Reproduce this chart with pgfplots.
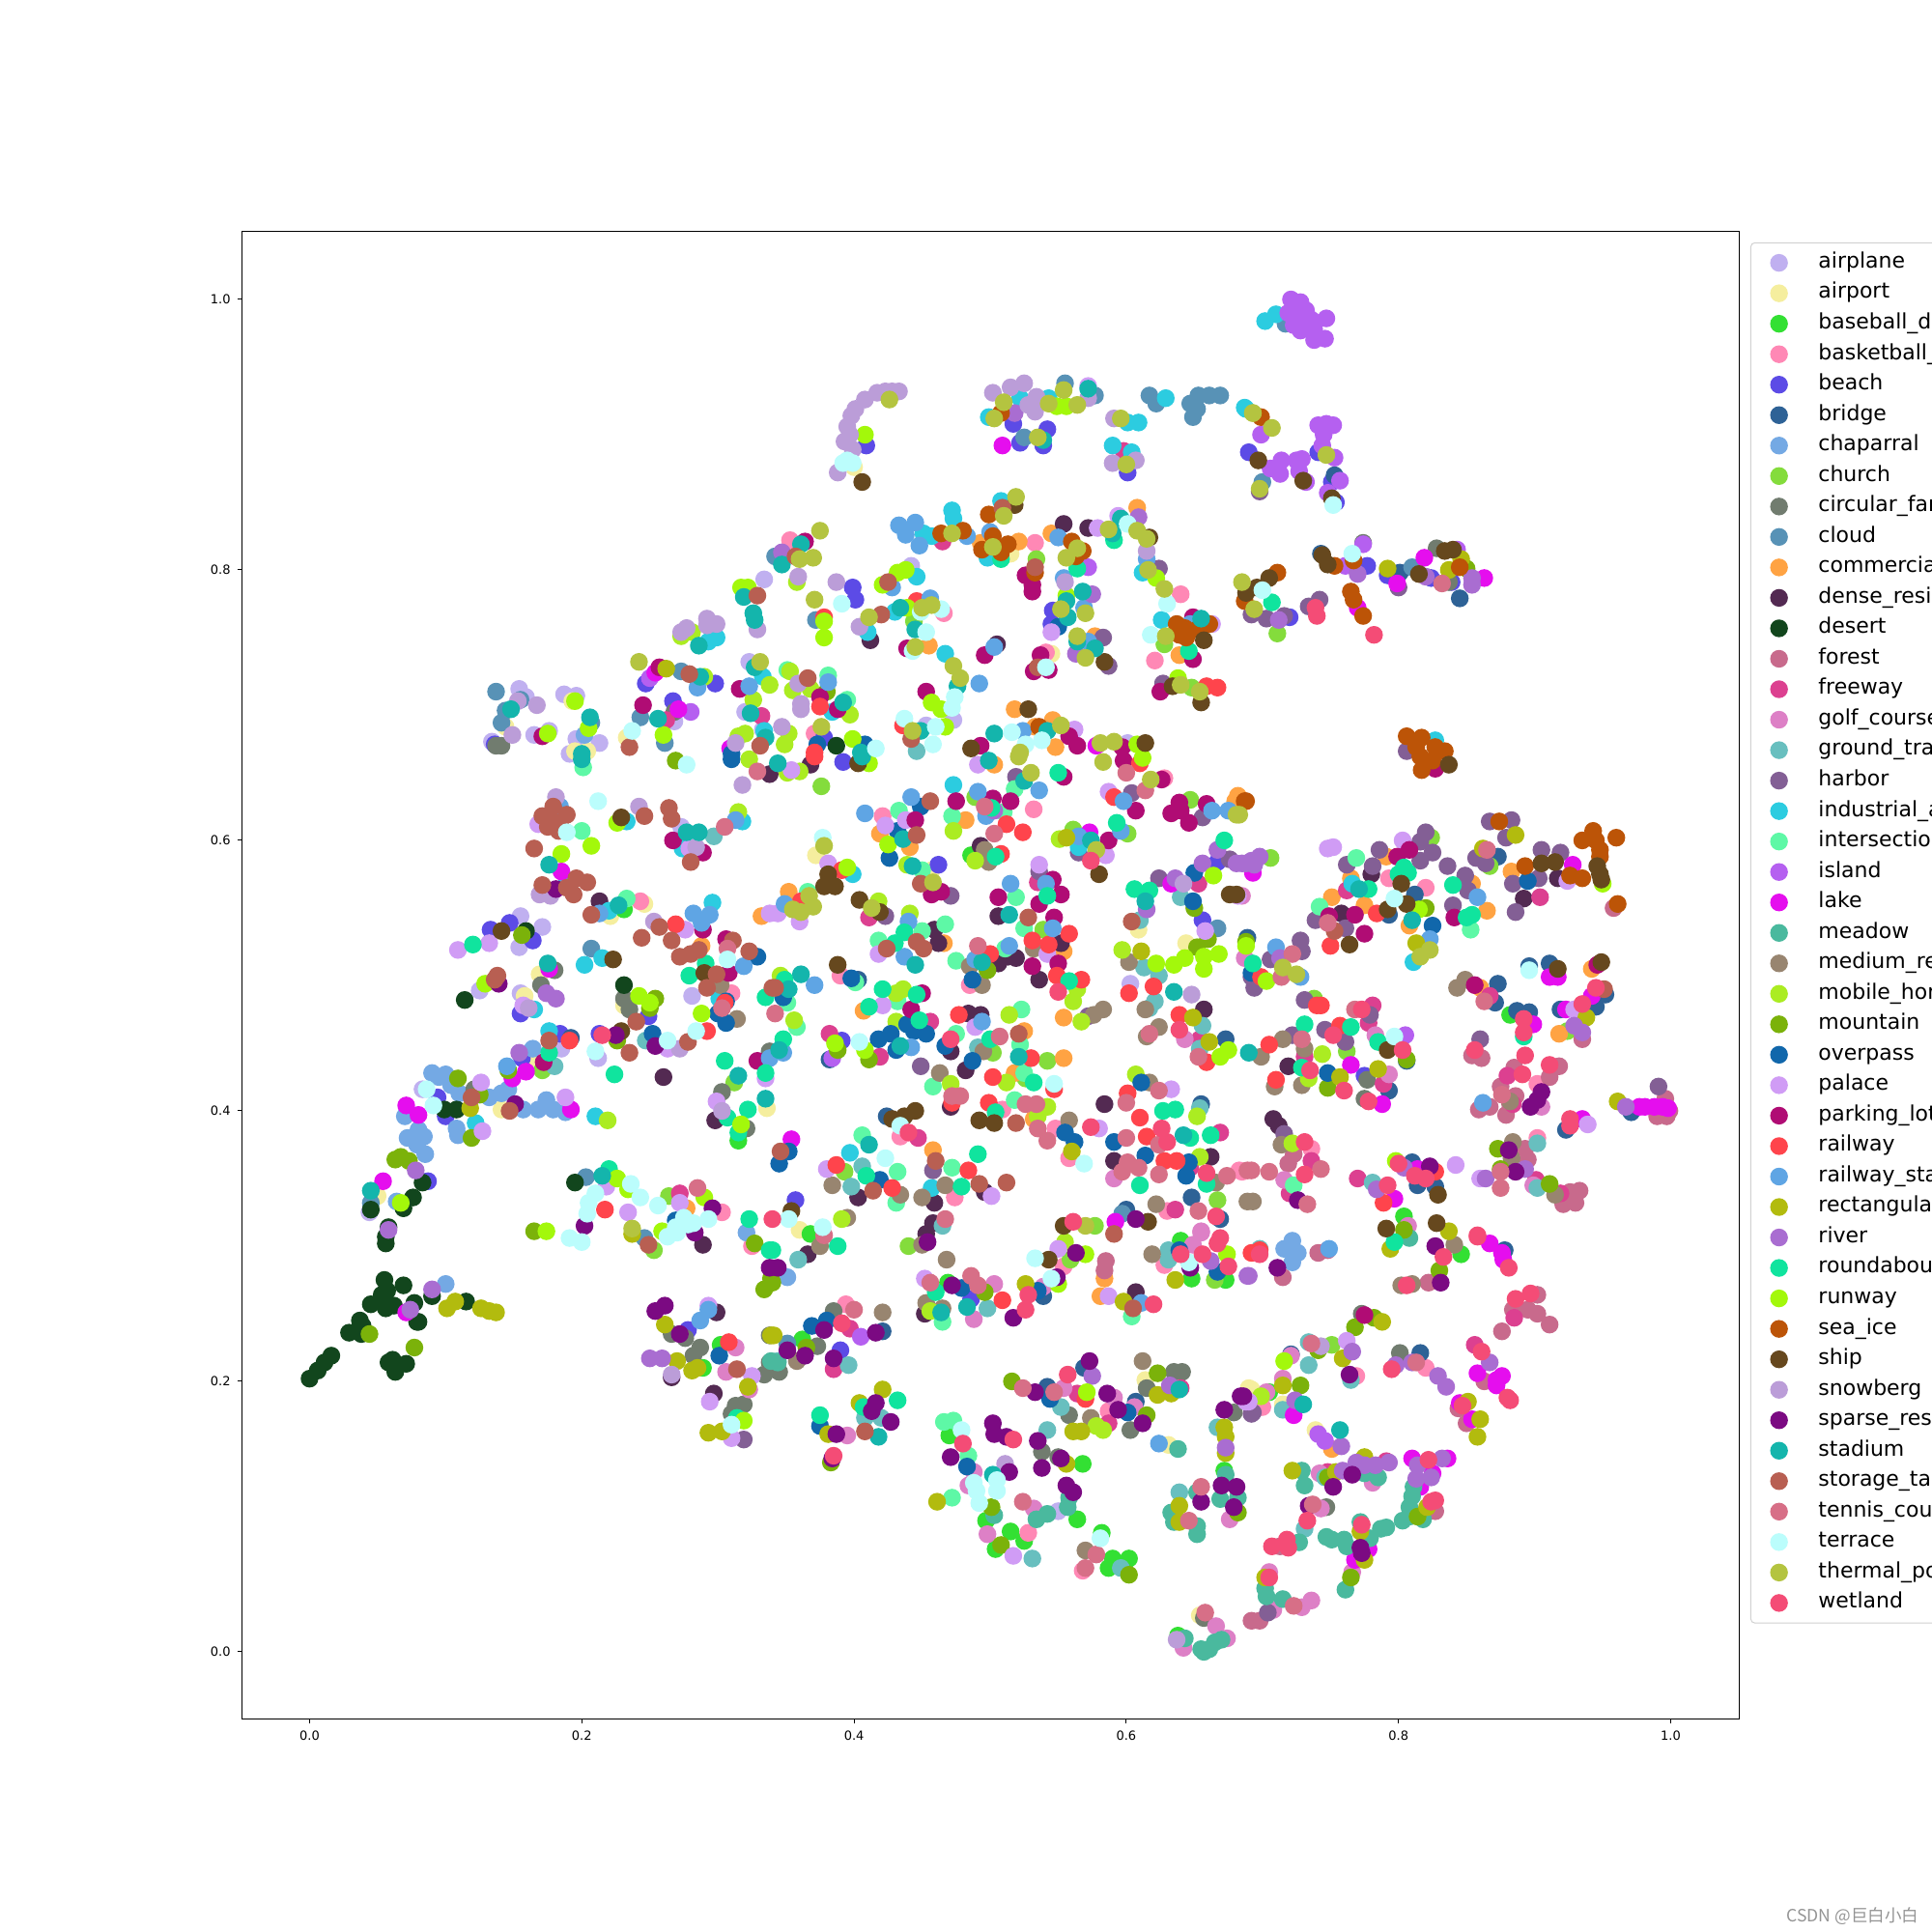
\documentclass[border=0pt]{standalone}
\usepackage{fontspec}
\usepackage{pgfplots}
\pgfplotsset{compat=1.18}
\setmainfont{DejaVu Sans}
\newfontfamily\wmfont{Noto Sans CJK SC}
\definecolor{c1}{HTML}{C0B0F0}\definecolor{c2}{HTML}{F5EE9E}\definecolor{c3}{HTML}{33E033}
\definecolor{c4}{HTML}{FF88B5}\definecolor{c5}{HTML}{5C4BE6}\definecolor{c6}{HTML}{2E6296}
\definecolor{c7}{HTML}{74A9E4}\definecolor{c8}{HTML}{84DC3C}\definecolor{c9}{HTML}{717C6F}
\definecolor{c10}{HTML}{5892B6}\definecolor{c11}{HTML}{FFA343}\definecolor{c12}{HTML}{532A52}
\definecolor{c13}{HTML}{12461D}\definecolor{c14}{HTML}{C86A8C}\definecolor{c15}{HTML}{DC4090}
\definecolor{c16}{HTML}{DD80C6}\definecolor{c17}{HTML}{68BFBF}\definecolor{c18}{HTML}{835F95}
\definecolor{c19}{HTML}{2CCCE0}\definecolor{c20}{HTML}{5EF8A6}\definecolor{c21}{HTML}{B560F0}
\definecolor{c22}{HTML}{E50EEE}\definecolor{c23}{HTML}{4AB99E}\definecolor{c24}{HTML}{988570}
\definecolor{c25}{HTML}{ABEC22}\definecolor{c26}{HTML}{7BB20A}\definecolor{c27}{HTML}{1167AB}
\definecolor{c28}{HTML}{D09CF5}\definecolor{c29}{HTML}{B00C74}\definecolor{c30}{HTML}{FF444C}
\definecolor{c31}{HTML}{5FA5E4}\definecolor{c32}{HTML}{B2BB0E}\definecolor{c33}{HTML}{A96DD1}
\definecolor{c34}{HTML}{10E49E}\definecolor{c35}{HTML}{A3F80B}\definecolor{c36}{HTML}{BC5407}
\definecolor{c37}{HTML}{66481E}\definecolor{c38}{HTML}{BB9DD8}\definecolor{c39}{HTML}{7B0A82}
\definecolor{c40}{HTML}{14B5AC}\definecolor{c41}{HTML}{B85F52}\definecolor{c42}{HTML}{D76F87}
\definecolor{c43}{HTML}{BBFDFC}\definecolor{c44}{HTML}{B4C440}\definecolor{c45}{HTML}{F44C76}
% rows: x y class (1 = airplane ... 45 = wetland, in legend order)
\def\master{%
0.137 0.710 10
0.154 0.712 1
0.159 0.706 1
0.155 0.704 10
0.153 0.703 38
0.167 0.700 38
0.144 0.696 10
0.141 0.687 10
0.148 0.697 40
0.144 0.684 2
0.134 0.673 1
0.136 0.671 5
0.141 0.670 9
0.137 0.670 9
0.149 0.678 38
0.187 0.708 1
0.196 0.707 1
0.193 0.703 2
0.195 0.703 35
0.165 0.678 1
0.171 0.677 29
0.175 0.679 35
0.176 0.681 1
0.207 0.687 10
0.206 0.691 40
0.202 0.678 7
0.205 0.683 35
0.196 0.675 1
0.213 0.672 1
0.195 0.666 2
0.204 0.666 2
0.200 0.664 40
0.191 0.664 1
0.242 0.732 44
0.257 0.728 29
0.254 0.724 22
0.250 0.720 21
0.247 0.716 5
0.262 0.727 32
0.273 0.725 10
0.279 0.723 41
0.290 0.721 25
0.287 0.721 40
0.285 0.713 31
0.298 0.716 5
0.273 0.754 38
0.277 0.757 38
0.292 0.764 38
0.299 0.760 38
0.292 0.759 38
0.273 0.751 25
0.281 0.754 25
0.286 0.744 40
0.293 0.747 19
0.299 0.750 19
0.317 0.787 35
0.322 0.787 35
0.319 0.780 40
0.329 0.781 41
0.326 0.768 40
0.327 0.763 40
0.334 0.793 1
0.329 0.756 38
0.342 0.810 10
0.323 0.732 1
0.327 0.728 40
0.331 0.732 44
0.333 0.721 19
0.338 0.715 25
0.316 0.712 29
0.323 0.714 31
0.326 0.704 25
0.320 0.695 1
0.324 0.694 40
0.332 0.692 15
0.243 0.691 10
0.245 0.700 29
0.256 0.690 40
0.262 0.689 15
0.268 0.695 9
0.267 0.703 5
0.271 0.697 22
0.280 0.695 21
0.268 0.688 1
0.233 0.676 2
0.237 0.681 43
0.235 0.669 41
0.260 0.678 35
0.261 0.672 10
0.320 0.679 25
0.315 0.677 25
0.313 0.672 38
0.309 0.668 22
0.310 0.664 27
0.333 0.682 1
0.334 0.681 19
0.335 0.676 40
0.331 0.670 41
0.433 0.932 38
0.428 0.932 38
0.423 0.932 38
0.417 0.931 38
0.408 0.926 38
0.401 0.919 38
0.398 0.914 38
0.395 0.906 38
0.397 0.900 38
0.393 0.895 38
0.399 0.889 38
0.388 0.872 38
0.426 0.926 44
0.409 0.892 5
0.408 0.900 35
0.395 0.881 43
0.392 0.879 43
0.399 0.879 43
0.400 0.876 2
0.406 0.865 37
0.502 0.931 38
0.515 0.935 38
0.525 0.938 38
0.534 0.928 38
0.528 0.922 38
0.533 0.917 38
0.522 0.927 19
0.543 0.927 19
0.499 0.913 19
0.508 0.916 36
0.510 0.924 44
0.503 0.912 44
0.543 0.923 44
0.564 0.922 44
0.554 0.933 44
0.518 0.916 33
0.517 0.908 5
0.542 0.904 5
0.522 0.894 5
0.539 0.892 5
0.549 0.921 35
0.556 0.921 35
0.525 0.898 10
0.555 0.938 10
0.577 0.929 10
0.509 0.892 22
0.535 0.898 44
0.539 0.896 40
0.572 0.927 38
0.572 0.936 28
0.572 0.934 40
0.617 0.929 10
0.622 0.923 10
0.647 0.923 10
0.653 0.929 10
0.661 0.929 10
0.669 0.929 10
0.649 0.913 10
0.652 0.919 10
0.629 0.927 19
0.687 0.920 19
0.591 0.912 38
0.590 0.879 38
0.607 0.881 38
0.596 0.912 44
0.600 0.878 44
0.693 0.916 44
0.601 0.909 19
0.609 0.909 19
0.590 0.892 19
0.604 0.887 19
0.598 0.888 15
0.601 0.872 5
0.433 0.833 31
0.445 0.835 31
0.438 0.826 31
0.448 0.818 31
0.483 0.825 31
0.451 0.827 19
0.457 0.825 19
0.472 0.844 19
0.473 0.838 19
0.464 0.827 36
0.480 0.829 36
0.472 0.827 44
0.465 0.821 15
0.508 0.851 19
0.519 0.854 44
0.518 0.848 37
0.509 0.846 41
0.499 0.841 36
0.510 0.840 44
0.502 0.825 36
0.513 0.819 36
0.494 0.815 36
0.508 0.813 36
0.521 0.821 11
0.493 0.820 11
0.500 0.828 31
0.502 0.817 44
0.498 0.809 19
0.508 0.808 34
0.515 0.812 2
0.533 0.820 4
0.534 0.808 8
0.526 0.796 29
0.531 0.789 29
0.531 0.784 29
0.533 0.798 36
0.533 0.802 41
0.554 0.834 12
0.572 0.831 12
0.579 0.831 28
0.594 0.840 28
0.545 0.827 11
0.608 0.846 11
0.550 0.824 31
0.560 0.821 36
0.568 0.814 36
0.563 0.810 36
0.564 0.816 44
0.556 0.809 44
0.572 0.802 21
0.564 0.801 34
0.609 0.839 33
0.596 0.838 40
0.590 0.827 40
0.601 0.834 43
0.587 0.830 44
0.608 0.829 44
0.615 0.823 44
0.617 0.824 37
0.591 0.822 34
0.615 0.814 38
0.615 0.808 31
0.612 0.798 19
0.616 0.800 44
0.624 0.801 18
0.622 0.794 35
0.628 0.786 44
0.640 0.782 4
0.630 0.775 43
0.375 0.829 44
0.353 0.822 4
0.364 0.821 29
0.361 0.819 40
0.347 0.813 33
0.357 0.810 41
0.347 0.804 40
0.360 0.808 44
0.370 0.809 44
0.359 0.795 38
0.358 0.791 25
0.387 0.791 38
0.399 0.787 5
0.401 0.778 5
0.391 0.775 43
0.371 0.778 44
0.372 0.763 10
0.378 0.765 30
0.378 0.762 35
0.378 0.750 35
0.421 0.789 35
0.425 0.791 41
0.432 0.798 35
0.438 0.800 35
0.442 0.803 1
0.446 0.795 19
0.428 0.787 31
0.404 0.758 38
0.411 0.765 44
0.420 0.767 41
0.412 0.748 12
0.410 0.754 19
0.430 0.769 19
0.434 0.772 40
0.439 0.772 35
0.446 0.777 30
0.456 0.779 31
0.450 0.772 44
0.457 0.774 44
0.449 0.769 43
0.464 0.771 43
0.466 0.768 4
0.444 0.762 8
0.445 0.756 40
0.453 0.754 43
0.455 0.744 11
0.439 0.742 29
0.443 0.740 43
0.445 0.743 44
0.467 0.738 19
0.473 0.729 44
0.478 0.720 44
0.476 0.714 40
0.474 0.706 43
0.472 0.698 43
0.492 0.716 31
0.453 0.710 29
0.457 0.702 35
0.464 0.697 35
0.473 0.689 1
0.496 0.737 29
0.503 0.743 31
0.505 0.745 12
0.537 0.737 29
0.532 0.725 29
0.543 0.726 29
0.541 0.739 4
0.545 0.738 2
0.535 0.728 41
0.541 0.728 43
0.554 0.794 31
0.555 0.791 38
0.568 0.784 40
0.575 0.782 33
0.556 0.781 35
0.556 0.777 40
0.557 0.765 40
0.546 0.770 5
0.545 0.760 5
0.552 0.771 44
0.570 0.768 44
0.550 0.758 27
0.545 0.754 28
0.569 0.772 31
0.564 0.751 44
0.570 0.735 44
0.564 0.747 40
0.577 0.742 40
0.577 0.751 11
0.583 0.750 18
0.563 0.738 33
0.572 0.747 31
0.584 0.732 37
0.587 0.729 18
0.621 0.733 4
0.626 0.763 19
0.618 0.752 43
0.629 0.751 44
0.628 0.745 8
0.637 0.760 36
0.639 0.752 36
0.644 0.750 36
0.652 0.756 36
0.661 0.760 36
0.643 0.757 36
0.649 0.765 29
0.649 0.734 29
0.655 0.764 40
0.657 0.748 37
0.646 0.740 34
0.639 0.737 11
0.647 0.760 31
0.663 0.760 28
0.627 0.716 18
0.625 0.710 29
0.634 0.714 37
0.655 0.702 37
0.638 0.720 35
0.640 0.715 44
0.654 0.710 44
0.648 0.713 8
0.659 0.714 30
0.667 0.713 30
0.518 0.697 11
0.528 0.697 37
0.546 0.689 11
0.533 0.684 11
0.536 0.684 36
0.503 0.679 40
0.542 0.681 40
0.552 0.685 44
0.516 0.680 43
0.538 0.674 43
0.526 0.671 43
0.524 0.681 31
0.562 0.682 28
0.558 0.677 29
0.564 0.670 29
0.493 0.670 29
0.486 0.668 37
0.614 0.672 37
0.581 0.672 44
0.591 0.673 44
0.522 0.665 44
0.578 0.670 22
0.601 0.672 1
0.597 0.669 29
0.608 0.671 35
0.548 0.669 11
0.351 0.726 20
0.353 0.725 25
0.366 0.720 41
0.381 0.722 20
0.381 0.717 31
0.359 0.716 38
0.355 0.711 25
0.368 0.712 25
0.380 0.710 26
0.375 0.706 29
0.375 0.699 30
0.361 0.701 38
0.361 0.697 38
0.395 0.704 20
0.392 0.702 40
0.388 0.697 29
0.397 0.693 25
0.384 0.695 19
0.347 0.684 38
0.352 0.679 25
0.349 0.671 25
0.376 0.684 44
0.378 0.676 5
0.373 0.671 27
0.387 0.670 13
0.399 0.675 35
0.416 0.668 43
0.405 0.665 40
0.408 0.671 27
0.371 0.679 4
0.371 0.665 30
0.437 0.690 43
0.436 0.685 30
0.443 0.681 44
0.442 0.675 41
0.449 0.681 40
0.460 0.684 43
0.458 0.671 43
0.467 0.684 35
0.453 0.685 1
0.446 0.666 17
0.702 0.984 19
0.710 0.989 19
0.717 0.982 10
0.721 1.000 21
0.728 0.998 21
0.719 0.990 21
0.726 0.990 21
0.732 0.992 21
0.723 0.981 21
0.731 0.983 21
0.736 0.985 21
0.728 0.977 21
0.738 0.970 21
0.746 0.971 21
0.747 0.986 21
0.738 0.978 21
0.741 0.907 21
0.747 0.908 21
0.752 0.907 21
0.745 0.900 21
0.744 0.892 21
0.753 0.883 21
0.699 0.900 21
0.706 0.875 21
0.714 0.881 21
0.713 0.871 21
0.725 0.881 21
0.729 0.882 21
0.727 0.873 21
0.757 0.866 21
0.748 0.857 21
0.774 0.819 21
0.761 0.803 21
0.732 0.865 21
0.688 0.919 19
0.693 0.916 44
0.707 0.905 44
0.747 0.885 44
0.698 0.860 44
0.699 0.913 36
0.690 0.887 5
0.741 0.887 5
0.751 0.865 5
0.754 0.850 5
0.697 0.881 37
0.730 0.866 37
0.751 0.853 37
0.753 0.870 6
0.700 0.865 10
0.698 0.858 18
0.752 0.848 43
0.743 0.812 6
0.744 0.811 37
0.748 0.804 37
0.753 0.803 36
0.767 0.807 36
0.766 0.812 43
0.774 0.820 9
0.777 0.803 5
0.770 0.797 33
0.792 0.801 32
0.792 0.796 5
0.801 0.798 6
0.799 0.790 22
0.800 0.787 18
0.810 0.802 10
0.819 0.809 22
0.815 0.797 37
0.820 0.795 33
0.824 0.794 5
0.839 0.791 5
0.832 0.790 42
0.828 0.816 9
0.837 0.791 9
0.843 0.815 21
0.834 0.814 37
0.840 0.815 37
0.837 0.800 32
0.850 0.801 26
0.846 0.808 32
0.845 0.802 36
0.863 0.794 22
0.854 0.794 33
0.854 0.789 33
0.845 0.779 6
0.711 0.798 36
0.687 0.777 36
0.685 0.791 44
0.705 0.794 37
0.688 0.783 37
0.696 0.787 37
0.700 0.785 43
0.707 0.776 34
0.694 0.771 44
0.692 0.767 18
0.703 0.764 18
0.716 0.766 18
0.720 0.765 5
0.712 0.763 33
0.711 0.753 8
0.734 0.773 18
0.742 0.778 18
0.739 0.772 45
0.740 0.766 45
0.765 0.784 36
0.767 0.778 36
0.774 0.766 36
0.770 0.772 22
0.782 0.752 45
0.806 0.677 36
0.817 0.676 36
0.813 0.669 36
0.827 0.669 36
0.834 0.666 36
0.827 0.674 19
0.806 0.666 18
0.817 0.652 36
0.825 0.659 36
0.816 0.662 36
0.827 0.653 29
0.837 0.656 37
0.688 0.629 36
0.682 0.633 11
0.683 0.619 44
0.752 0.595 28
0.748 0.594 28
0.786 0.593 18
0.820 0.606 18
0.816 0.599 18
0.825 0.591 18
0.816 0.585 18
0.762 0.582 18
0.781 0.581 18
0.836 0.581 18
0.849 0.574 18
0.851 0.563 18
0.840 0.552 18
0.739 0.541 18
0.769 0.587 20
0.803 0.600 28
0.824 0.602 8
0.799 0.588 29
0.808 0.593 29
0.749 0.544 29
0.768 0.545 29
0.775 0.531 29
0.841 0.543 29
0.791 0.588 11
0.765 0.572 11
0.751 0.558 11
0.775 0.552 11
0.854 0.568 11
0.865 0.548 11
0.808 0.537 11
0.780 0.575 12
0.758 0.546 12
0.793 0.572 4
0.820 0.565 4
0.762 0.563 15
0.804 0.580 34
0.800 0.575 34
0.807 0.576 34
0.778 0.564 34
0.840 0.567 34
0.854 0.545 34
0.850 0.543 34
0.766 0.568 19
0.771 0.564 40
0.802 0.568 37
0.806 0.553 37
0.792 0.549 37
0.764 0.523 37
0.812 0.560 6
0.793 0.545 6
0.797 0.557 43
0.784 0.546 30
0.750 0.522 30
0.815 0.549 35
0.820 0.550 26
0.810 0.541 40
0.825 0.537 27
0.823 0.527 31
0.858 0.558 31
0.823 0.519 44
0.816 0.514 44
0.813 0.524 32
0.811 0.510 19
0.742 0.551 20
0.853 0.534 20
0.748 0.539 42
0.753 0.533 41
0.761 0.535 18
0.867 0.614 18
0.883 0.615 18
0.879 0.602 18
0.874 0.614 36
0.886 0.604 32
0.857 0.587 18
0.864 0.583 18
0.862 0.594 32
0.865 0.593 42
0.873 0.588 6
0.867 0.581 8
0.883 0.577 11
0.893 0.581 36
0.905 0.583 37
0.915 0.584 37
0.905 0.593 18
0.919 0.591 18
0.884 0.568 18
0.903 0.572 18
0.886 0.547 18
0.895 0.570 27
0.917 0.572 12
0.892 0.557 12
0.928 0.582 22
0.924 0.570 28
0.926 0.574 36
0.935 0.572 36
0.904 0.558 15
0.943 0.607 36
0.935 0.600 36
0.945 0.600 36
0.960 0.602 36
0.948 0.593 36
0.948 0.588 36
0.946 0.581 37
0.948 0.575 37
0.949 0.571 37
0.950 0.568 35
0.961 0.553 36
0.958 0.550 14
0.688 0.583 33
0.698 0.588 33
0.694 0.582 33
0.681 0.583 33
0.706 0.587 8
0.693 0.576 22
0.681 0.560 37
0.685 0.559 16
0.689 0.528 6
0.688 0.525 26
0.688 0.522 35
0.687 0.513 16
0.693 0.509 34
0.699 0.499 30
0.694 0.491 18
0.692 0.499 18
0.692 0.502 27
0.703 0.496 35
0.714 0.499 42
0.710 0.521 31
0.728 0.499 31
0.706 0.512 18
0.728 0.526 18
0.729 0.518 18
0.713 0.513 33
0.722 0.516 42
0.715 0.506 44
0.725 0.501 44
0.731 0.482 18
0.740 0.478 30
0.743 0.478 30
0.738 0.483 8
0.773 0.475 45
0.768 0.475 42
0.781 0.478 15
0.778 0.465 15
0.779 0.471 18
0.690 0.443 40
0.705 0.449 30
0.699 0.440 24
0.715 0.453 24
0.722 0.456 18
0.731 0.464 34
0.729 0.453 42
0.731 0.446 24
0.731 0.440 15
0.744 0.442 25
0.746 0.460 18
0.757 0.463 30
0.752 0.456 45
0.765 0.462 34
0.761 0.451 18
0.762 0.444 8
0.765 0.434 22
0.783 0.456 16
0.785 0.451 34
0.797 0.455 43
0.805 0.456 21
0.792 0.445 37
0.803 0.445 45
0.806 0.438 26
0.806 0.437 6
0.719 0.433 12
0.735 0.430 45
0.729 0.432 34
0.748 0.428 27
0.757 0.425 32
0.734 0.424 25
0.748 0.417 26
0.760 0.415 45
0.729 0.419 24
0.709 0.418 24
0.710 0.423 30
0.775 0.426 5
0.785 0.431 32
0.793 0.427 16
0.777 0.423 9
0.775 0.409 9
0.789 0.420 15
0.793 0.415 6
0.778 0.407 45
0.788 0.405 22
0.843 0.491 24
0.849 0.497 24
0.856 0.493 29
0.860 0.491 11
0.873 0.494 6
0.871 0.480 6
0.867 0.485 15
0.863 0.481 42
0.896 0.507 6
0.911 0.509 6
0.896 0.504 43
0.911 0.499 22
0.917 0.499 22
0.917 0.505 37
0.949 0.510 37
0.942 0.505 11
0.946 0.508 29
0.952 0.486 6
0.945 0.477 6
0.919 0.475 6
0.951 0.490 41
0.942 0.485 22
0.923 0.475 22
0.945 0.491 45
0.935 0.479 45
0.929 0.475 28
0.938 0.469 32
0.929 0.463 33
0.935 0.458 33
0.918 0.457 11
0.935 0.453 14
0.924 0.459 8
0.882 0.471 3
0.887 0.474 6
0.896 0.473 6
0.892 0.468 45
0.892 0.458 45
0.899 0.464 22
0.892 0.455 34
0.860 0.453 18
0.854 0.441 14
0.861 0.439 14
0.856 0.445 45
0.893 0.441 45
0.885 0.432 14
0.875 0.418 14
0.886 0.411 14
0.859 0.401 14
0.867 0.403 14
0.879 0.397 14
0.911 0.425 14
0.918 0.433 14
0.882 0.405 14
0.880 0.426 15
0.884 0.405 15
0.891 0.427 45
0.911 0.434 45
0.902 0.420 4
0.876 0.412 42
0.882 0.407 24
0.905 0.414 39
0.897 0.403 39
0.902 0.408 39
0.862 0.406 31
0.905 0.403 16
0.991 0.418 18
0.961 0.407 32
0.967 0.403 33
0.977 0.403 22
0.988 0.403 22
0.998 0.402 22
0.981 0.403 22
0.994 0.403 22
0.997 0.396 14
0.990 0.396 14
0.999 0.400 14
0.996 0.409 14
0.971 0.399 6
0.926 0.394 45
0.926 0.389 45
0.935 0.394 22
0.923 0.386 6
0.939 0.390 28
0.873 0.372 26
0.875 0.357 26
0.884 0.377 24
0.883 0.365 24
0.881 0.371 39
0.886 0.355 39
0.893 0.372 14
0.895 0.364 14
0.902 0.376 17
0.902 0.380 4
0.875 0.355 42
0.875 0.343 42
0.864 0.350 33
0.893 0.357 33
0.860 0.350 28
0.902 0.343 17
0.899 0.345 16
0.901 0.349 15
0.911 0.346 26
0.915 0.338 24
0.921 0.331 14
0.930 0.332 14
0.926 0.340 14
0.933 0.341 14
0.919 0.339 15
0.693 0.333 24
0.708 0.394 12
0.712 0.389 12
0.716 0.383 18
0.714 0.375 24
0.722 0.376 25
0.731 0.377 45
0.736 0.372 4
0.723 0.368 14
0.719 0.361 14
0.743 0.357 42
0.705 0.355 42
0.692 0.356 42
0.685 0.355 4
0.736 0.363 15
0.731 0.353 45
0.716 0.349 16
0.723 0.345 20
0.720 0.339 15
0.726 0.334 39
0.733 0.331 42
0.770 0.350 15
0.781 0.347 17
0.784 0.342 33
0.792 0.345 45
0.797 0.335 22
0.789 0.332 30
0.798 0.363 35
0.800 0.361 45
0.810 0.362 6
0.814 0.357 22
0.823 0.359 39
0.812 0.352 45
0.820 0.350 45
0.827 0.355 30
0.842 0.360 28
0.827 0.344 6
0.814 0.345 6
0.829 0.338 37
0.804 0.358 33
0.804 0.322 3
0.791 0.313 37
0.828 0.317 37
0.807 0.315 16
0.804 0.312 26
0.837 0.311 32
0.858 0.308 45
0.181 0.632 38
0.184 0.625 31
0.179 0.625 41
0.171 0.618 41
0.177 0.616 41
0.189 0.619 41
0.184 0.612 41
0.175 0.610 41
0.183 0.607 41
0.168 0.612 28
0.200 0.607 20
0.189 0.606 43
0.212 0.629 43
0.207 0.596 35
0.165 0.594 41
0.185 0.590 35
0.176 0.582 40
0.185 0.577 22
0.181 0.564 39
0.171 0.567 41
0.196 0.572 41
0.204 0.569 41
0.194 0.560 41
0.189 0.565 41
0.169 0.560 38
0.177 0.559 38
0.189 0.568 19
0.213 0.555 12
0.220 0.548 19
0.227 0.552 40
0.233 0.557 20
0.231 0.549 3
0.243 0.555 4
0.246 0.553 2
0.221 0.544 2
0.207 0.545 41
0.213 0.546 31
0.226 0.613 35
0.229 0.617 37
0.233 0.614 19
0.242 0.625 38
0.246 0.618 41
0.264 0.624 41
0.266 0.616 41
0.273 0.610 1
0.277 0.606 40
0.286 0.606 40
0.267 0.600 29
0.289 0.591 29
0.297 0.603 17
0.305 0.610 42
0.313 0.615 31
0.315 0.621 25
0.318 0.614 19
0.284 0.595 38
0.279 0.594 28
0.274 0.594 19
0.280 0.584 41
0.200 0.660 40
0.201 0.654 20
0.310 0.660 27
0.323 0.660 25
0.329 0.651 42
0.318 0.641 38
0.338 0.649 12
0.277 0.656 43
0.269 0.659 26
0.332 0.544 11
0.338 0.546 28
0.296 0.554 19
0.282 0.546 31
0.294 0.545 31
0.288 0.539 31
0.269 0.538 30
0.289 0.534 29
0.276 0.534 28
0.253 0.540 38
0.257 0.536 41
0.244 0.528 41
0.266 0.526 41
0.272 0.514 41
0.280 0.516 41
0.286 0.519 41
0.288 0.522 11
0.306 0.527 29
0.308 0.502 29
0.311 0.526 41
0.323 0.518 41
0.307 0.520 42
0.329 0.514 27
0.307 0.512 43
0.319 0.507 31
0.291 0.509 34
0.279 0.500 34
0.290 0.502 37
0.299 0.501 41
0.292 0.491 41
0.302 0.493 24
0.310 0.487 4
0.281 0.485 1
0.301 0.483 19
0.306 0.481 27
0.300 0.472 27
0.306 0.465 27
0.305 0.480 30
0.303 0.476 42
0.314 0.468 24
0.335 0.484 34
0.340 0.491 41
0.288 0.472 35
0.292 0.459 30
0.284 0.459 43
0.278 0.451 41
0.272 0.446 38
0.263 0.446 28
0.263 0.452 43
0.252 0.457 27
0.254 0.448 39
0.247 0.452 17
0.240 0.466 41
0.249 0.470 5
0.242 0.485 35
0.250 0.480 35
0.254 0.483 26
0.250 0.476 26
0.231 0.493 13
0.231 0.483 9
0.235 0.475 9
0.231 0.478 2
0.207 0.520 10
0.202 0.508 19
0.215 0.513 19
0.223 0.512 37
0.133 0.534 5
0.147 0.539 5
0.164 0.526 5
0.155 0.544 1
0.171 0.536 1
0.154 0.521 1
0.141 0.533 37
0.159 0.533 13
0.156 0.530 26
0.109 0.519 28
0.132 0.524 28
0.120 0.523 34
0.125 0.489 1
0.129 0.494 35
0.139 0.494 39
0.136 0.497 41
0.138 0.500 41
0.114 0.482 13
0.169 0.501 2
0.170 0.493 9
0.180 0.504 9
0.176 0.505 22
0.175 0.509 40
0.174 0.487 33
0.181 0.483 33
0.155 0.487 1
0.158 0.485 2
0.157 0.478 28
0.161 0.476 38
0.165 0.475 19
0.155 0.472 5
0.176 0.459 19
0.184 0.457 5
0.192 0.454 6
0.191 0.452 30
0.176 0.452 41
0.176 0.443 34
0.185 0.446 1
0.172 0.436 29
0.180 0.433 17
0.171 0.430 8
0.164 0.446 7
0.154 0.443 33
0.156 0.439 5
0.163 0.437 2
0.159 0.429 22
0.149 0.424 22
0.146 0.430 26
0.145 0.433 31
0.213 0.457 5
0.215 0.456 45
0.225 0.456 39
0.229 0.459 37
0.226 0.452 26
0.210 0.444 43
0.212 0.439 1
0.235 0.443 41
0.224 0.427 34
0.260 0.425 12
0.329 0.437 29
0.338 0.444 9
0.338 0.439 31
0.305 0.437 34
0.335 0.424 28
0.312 0.421 8
0.315 0.426 40
0.303 0.414 9
0.299 0.407 28
0.303 0.400 38
0.322 0.401 34
0.307 0.395 34
0.315 0.384 34
0.335 0.428 34
0.298 0.393 12
0.317 0.390 35
0.321 0.387 9
0.315 0.378 3
0.335 0.409 40
0.336 0.402 2
0.090 0.428 7
0.100 0.427 7
0.095 0.425 7
0.104 0.419 7
0.110 0.413 7
0.132 0.410 7
0.141 0.413 7
0.146 0.416 7
0.157 0.401 7
0.168 0.401 7
0.174 0.408 7
0.179 0.401 7
0.188 0.399 7
0.080 0.386 7
0.084 0.381 7
0.072 0.380 7
0.079 0.375 7
0.085 0.368 7
0.070 0.396 7
0.108 0.387 7
0.109 0.382 7
0.109 0.424 26
0.126 0.421 28
0.119 0.410 41
0.121 0.416 9
0.125 0.412 26
0.118 0.402 32
0.099 0.401 13
0.108 0.401 13
0.100 0.396 5
0.094 0.410 5
0.086 0.416 43
0.091 0.404 43
0.083 0.416 1
0.071 0.404 22
0.080 0.397 22
0.192 0.401 22
0.188 0.410 28
0.151 0.405 39
0.147 0.400 41
0.141 0.401 2
0.210 0.396 19
0.219 0.393 25
0.122 0.391 19
0.127 0.385 28
0.119 0.380 26
0.067 0.366 26
0.063 0.364 26
0.073 0.363 26
0.078 0.356 33
0.083 0.347 13
0.054 0.348 22
0.087 0.348 5
0.045 0.341 40
0.050 0.337 2
0.076 0.336 13
0.069 0.328 13
0.045 0.327 13
0.067 0.332 35
0.064 0.333 7
0.045 0.332 10
0.044 0.325 1
0.195 0.347 13
0.203 0.351 10
0.215 0.352 40
0.220 0.357 34
0.218 0.344 28
0.226 0.350 35
0.234 0.342 35
0.236 0.346 43
0.243 0.336 43
0.210 0.339 43
0.205 0.332 43
0.204 0.324 43
0.256 0.330 43
0.275 0.321 43
0.282 0.317 43
0.293 0.320 43
0.269 0.314 43
0.217 0.327 30
0.234 0.325 28
0.264 0.337 8
0.272 0.339 15
0.272 0.332 28
0.277 0.328 11
0.285 0.343 42
0.290 0.336 35
0.296 0.328 39
0.303 0.325 4
0.269 0.319 27
0.323 0.320 34
0.340 0.320 45
0.344 0.657 40
0.351 0.650 25
0.354 0.652 28
0.360 0.651 25
0.368 0.656 12
0.371 0.662 30
0.392 0.658 5
0.403 0.657 37
0.406 0.662 40
0.411 0.657 35
0.376 0.640 8
0.473 0.641 19
0.475 0.629 29
0.491 0.656 28
0.503 0.656 11
0.499 0.659 40
0.521 0.662 44
0.519 0.647 18
0.530 0.650 44
0.525 0.644 40
0.554 0.647 29
0.550 0.650 34
0.518 0.638 20
0.536 0.637 31
0.532 0.623 4
0.491 0.636 31
0.489 0.632 8
0.502 0.631 29
0.515 0.629 29
0.496 0.625 42
0.501 0.624 34
0.503 0.622 33
0.497 0.618 31
0.472 0.618 20
0.510 0.621 20
0.482 0.615 11
0.473 0.607 25
0.512 0.612 30
0.524 0.606 30
0.503 0.605 42
0.408 0.620 31
0.442 0.632 31
0.456 0.629 41
0.449 0.625 27
0.433 0.622 20
0.421 0.618 4
0.423 0.611 28
0.438 0.615 28
0.445 0.615 29
0.419 0.605 11
0.441 0.595 11
0.432 0.607 27
0.426 0.587 27
0.436 0.601 40
0.446 0.604 41
0.425 0.597 35
0.439 0.582 25
0.443 0.581 40
0.450 0.578 20
0.457 0.578 2
0.462 0.582 5
0.449 0.568 41
0.458 0.569 44
0.457 0.560 29
0.464 0.562 29
0.471 0.559 18
0.493 0.596 12
0.496 0.593 24
0.499 0.584 24
0.489 0.585 25
0.486 0.589 3
0.504 0.588 34
0.508 0.590 30
0.378 0.596 44
0.377 0.602 43
0.372 0.589 2
0.381 0.583 28
0.395 0.580 35
0.391 0.578 30
0.399 0.575 19
0.381 0.575 37
0.378 0.566 37
0.386 0.566 37
0.382 0.569 37
0.404 0.556 37
0.413 0.550 44
0.419 0.547 37
0.423 0.544 18
0.411 0.543 15
0.418 0.555 25
0.367 0.559 44
0.370 0.551 44
0.361 0.547 44
0.355 0.549 44
0.352 0.562 11
0.349 0.553 31
0.344 0.546 28
0.360 0.540 28
0.366 0.562 20
0.361 0.555 30
0.361 0.501 40
0.346 0.500 25
0.349 0.497 34
0.352 0.490 40
0.342 0.491 41
0.348 0.484 27
0.351 0.480 20
0.371 0.493 31
0.342 0.472 42
0.356 0.467 25
0.358 0.462 20
0.348 0.453 34
0.345 0.445 40
0.348 0.443 31
0.388 0.508 37
0.390 0.500 4
0.398 0.498 27
0.403 0.497 6
0.401 0.495 20
0.382 0.457 15
0.382 0.438 6
0.386 0.450 35
0.388 0.445 26
0.391 0.452 5
0.384 0.439 21
0.404 0.451 43
0.408 0.445 35
0.411 0.438 26
0.419 0.440 15
0.418 0.453 27
0.427 0.457 27
0.431 0.445 27
0.439 0.464 27
0.444 0.459 27
0.453 0.457 27
0.434 0.448 40
0.442 0.447 31
0.421 0.490 34
0.411 0.477 34
0.446 0.486 34
0.448 0.467 34
0.421 0.478 28
0.436 0.490 25
0.431 0.487 25
0.431 0.466 25
0.407 0.474 11
0.432 0.481 20
0.442 0.475 29
0.450 0.487 29
0.456 0.466 15
0.449 0.433 18
0.463 0.428 24
0.471 0.420 25
0.458 0.418 20
0.472 0.411 42
0.478 0.411 42
0.471 0.403 12
0.472 0.406 30
0.459 0.534 12
0.462 0.524 12
0.466 0.524 11
0.467 0.538 20
0.475 0.511 20
0.441 0.546 25
0.440 0.540 31
0.437 0.514 31
0.437 0.532 34
0.450 0.533 20
0.418 0.526 20
0.418 0.516 28
0.424 0.520 41
0.446 0.525 41
0.451 0.520 41
0.430 0.524 34
0.445 0.508 40
0.506 0.544 12
0.506 0.509 12
0.513 0.514 12
0.519 0.513 12
0.536 0.497 12
0.552 0.524 12
0.514 0.545 40
0.525 0.535 20
0.528 0.543 41
0.506 0.558 29
0.536 0.553 29
0.546 0.571 29
0.552 0.560 29
0.547 0.543 29
0.531 0.507 29
0.550 0.509 29
0.515 0.568 31
0.541 0.568 31
0.536 0.582 28
0.536 0.577 18
0.535 0.569 15
0.542 0.559 34
0.519 0.558 20
0.546 0.535 31
0.539 0.534 8
0.558 0.531 30
0.531 0.526 30
0.543 0.523 30
0.554 0.518 11
0.542 0.516 28
0.532 0.520 24
0.514 0.522 31
0.511 0.520 20
0.491 0.522 42
0.500 0.516 30
0.489 0.512 31
0.494 0.510 40
0.485 0.507 24
0.494 0.493 24
0.498 0.504 26
0.487 0.497 27
0.485 0.493 4
0.549 0.500 30
0.567 0.497 30
0.558 0.496 34
0.550 0.488 45
0.564 0.490 25
0.561 0.481 25
0.567 0.466 25
0.554 0.469 11
0.576 0.471 24
0.583 0.475 24
0.572 0.470 18
0.556 0.602 32
0.551 0.601 25
0.561 0.608 8
0.565 0.603 31
0.565 0.591 18
0.565 0.595 19
0.573 0.606 22
0.574 0.600 40
0.578 0.593 44
0.574 0.585 45
0.585 0.589 28
0.587 0.600 29
0.607 0.622 29
0.580 0.575 37
0.601 0.605 8
0.596 0.607 31
0.593 0.613 34
0.587 0.636 28
0.591 0.632 30
0.604 0.635 18
0.598 0.629 31
0.614 0.637 42
0.600 0.650 42
0.618 0.645 44
0.583 0.658 44
0.598 0.659 29
0.626 0.645 29
0.628 0.646 4
0.610 0.657 30
0.612 0.661 35
0.633 0.620 29
0.639 0.628 29
0.646 0.613 29
0.659 0.627 29
0.640 0.622 29
0.647 0.630 8
0.656 0.617 18
0.663 0.622 31
0.675 0.622 31
0.680 0.629 11
0.687 0.629 36
0.681 0.619 44
0.672 0.600 34
0.606 0.564 34
0.617 0.563 34
0.667 0.593 33
0.656 0.583 33
0.685 0.583 33
0.692 0.585 33
0.636 0.572 33
0.624 0.572 18
0.676 0.586 18
0.650 0.576 27
0.664 0.574 35
0.653 0.568 15
0.633 0.568 22
0.642 0.568 38
0.667 0.584 5
0.640 0.558 17
0.649 0.555 27
0.650 0.550 26
0.614 0.555 40
0.615 0.549 33
0.604 0.540 41
0.610 0.541 17
0.609 0.534 2
0.676 0.560 37
0.682 0.559 28
0.656 0.541 5
0.658 0.533 28
0.667 0.535 10
0.660 0.527 26
0.597 0.519 25
0.611 0.518 32
0.602 0.510 24
0.613 0.506 17
0.624 0.500 17
0.622 0.509 35
0.635 0.508 35
0.643 0.513 35
0.657 0.514 35
0.668 0.516 35
0.657 0.505 35
0.652 0.521 26
0.644 0.524 2
0.603 0.494 1
0.602 0.487 30
0.620 0.492 30
0.635 0.488 40
0.621 0.481 17
0.656 0.463 17
0.617 0.476 17
0.648 0.486 38
0.614 0.475 24
0.624 0.462 24
0.615 0.455 24
0.617 0.457 42
0.639 0.471 30
0.657 0.475 12
0.649 0.469 32
0.639 0.460 45
0.643 0.453 16
0.654 0.453 15
0.673 0.453 6
0.661 0.451 32
0.654 0.446 17
0.653 0.440 42
0.669 0.440 35
0.675 0.445 35
0.659 0.436 30
0.477 0.471 30
0.484 0.472 12
0.493 0.471 12
0.523 0.475 20
0.514 0.471 25
0.489 0.462 28
0.494 0.466 31
0.471 0.444 12
0.467 0.448 27
0.475 0.457 20
0.471 0.453 45
0.500 0.453 34
0.507 0.455 42
0.525 0.459 11
0.521 0.457 41
0.522 0.449 20
0.495 0.444 24
0.502 0.443 8
0.491 0.447 17
0.521 0.440 40
0.530 0.439 30
0.542 0.437 8
0.554 0.439 11
0.487 0.437 27
0.482 0.430 12
0.502 0.425 30
0.512 0.421 25
0.532 0.421 34
0.518 0.428 11
0.547 0.420 43
0.547 0.416 30
0.525 0.428 20
0.526 0.424 8
0.518 0.408 20
0.526 0.405 42
0.534 0.405 42
0.542 0.403 25
0.535 0.396 25
0.509 0.401 4
0.499 0.406 30
0.504 0.399 34
0.492 0.393 37
0.503 0.391 37
0.519 0.391 41
0.532 0.394 11
0.558 0.393 24
0.548 0.387 4
0.555 0.384 27
0.562 0.377 27
0.535 0.387 42
0.542 0.378 42
0.560 0.370 32
0.569 0.361 43
0.558 0.365 4
0.574 0.388 45
0.580 0.387 28
0.424 0.396 6
0.428 0.394 37
0.437 0.396 37
0.445 0.400 37
0.434 0.389 43
0.440 0.384 45
0.434 0.381 4
0.447 0.380 15
0.458 0.371 11
0.460 0.363 41
0.458 0.356 18
0.491 0.368 34
0.484 0.356 30
0.472 0.358 20
0.467 0.345 24
0.450 0.336 24
0.479 0.344 34
0.492 0.346 41
0.512 0.347 41
0.474 0.336 4
0.501 0.337 28
0.459 0.332 12
0.496 0.340 12
0.457 0.343 19
0.397 0.369 19
0.411 0.375 40
0.406 0.382 20
0.380 0.357 28
0.387 0.360 30
0.406 0.359 17
0.393 0.355 8
0.409 0.352 34
0.423 0.365 43
0.432 0.355 20
0.431 0.332 20
0.384 0.345 24
0.434 0.338 24
0.398 0.344 17
0.403 0.336 12
0.414 0.341 41
0.428 0.343 30
0.419 0.349 27
0.354 0.379 22
0.352 0.370 27
0.345 0.361 27
0.346 0.370 41
0.357 0.334 5
0.354 0.326 37
0.352 0.320 43
0.360 0.312 2
0.377 0.314 43
0.368 0.309 3
0.391 0.320 25
0.395 0.321 24
0.458 0.317 12
0.453 0.309 12
0.467 0.320 42
0.465 0.315 17
0.601 0.413 30
0.610 0.395 30
0.615 0.381 30
0.628 0.363 30
0.637 0.363 30
0.626 0.387 45
0.630 0.377 45
0.627 0.400 34
0.636 0.401 34
0.647 0.380 34
0.662 0.382 34
0.610 0.345 34
0.611 0.421 27
0.591 0.377 27
0.614 0.367 27
0.646 0.362 27
0.607 0.427 25
0.617 0.421 24
0.624 0.415 42
0.600 0.406 42
0.600 0.380 42
0.601 0.362 42
0.609 0.358 42
0.597 0.355 42
0.624 0.353 42
0.624 0.375 42
0.633 0.416 28
0.584 0.405 12
0.591 0.363 12
0.662 0.366 12
0.644 0.352 27
0.655 0.405 6
0.654 0.402 17
0.652 0.396 25
0.642 0.382 40
0.654 0.366 25
0.669 0.384 15
0.591 0.350 16
0.659 0.354 45
0.666 0.347 24
0.674 0.352 42
0.683 0.356 4
0.689 0.356 42
0.659 0.346 34
0.647 0.358 15
0.689 0.333 24
0.667 0.334 8
0.648 0.336 6
0.669 0.320 6
0.600 0.327 6
0.622 0.331 24
0.630 0.326 4
0.636 0.327 15
0.653 0.326 42
0.666 0.322 45
0.607 0.320 39
0.592 0.318 22
0.616 0.318 37
0.597 0.324 10
0.591 0.309 41
0.570 0.315 44
0.577 0.315 8
0.561 0.318 45
0.554 0.315 37
0.655 0.311 16
0.378 0.308 42
0.375 0.300 24
0.388 0.300 34
0.366 0.294 12
0.359 0.290 17
0.351 0.277 7
0.344 0.284 39
0.340 0.273 26
0.340 0.297 34
0.440 0.300 8
0.454 0.303 39
0.450 0.301 24
0.468 0.290 24
0.452 0.276 28
0.456 0.273 42
0.460 0.266 34
0.469 0.273 3
0.472 0.271 39
0.479 0.269 27
0.486 0.278 42
0.491 0.271 42
0.496 0.266 26
0.503 0.272 16
0.509 0.260 30
0.483 0.255 40
0.498 0.254 17
0.488 0.246 16
0.486 0.261 5
0.453 0.258 24
0.452 0.250 12
0.456 0.252 25
0.465 0.254 24
0.464 0.251 40
0.465 0.244 20
0.517 0.247 39
0.526 0.253 45
0.528 0.264 45
0.526 0.272 32
0.535 0.267 27
0.539 0.270 16
0.539 0.263 6
0.550 0.298 28
0.555 0.303 25
0.543 0.290 37
0.533 0.291 43
0.559 0.290 8
0.563 0.295 39
0.570 0.294 35
0.554 0.285 4
0.545 0.276 43
0.550 0.272 35
0.549 0.277 39
0.585 0.289 14
0.584 0.282 14
0.584 0.276 11
0.581 0.263 11
0.587 0.263 28
0.607 0.266 12
0.598 0.259 32
0.605 0.254 41
0.604 0.248 20
0.620 0.257 45
0.611 0.258 31
0.619 0.294 24
0.631 0.297 17
0.631 0.290 17
0.628 0.286 4
0.655 0.310 16
0.649 0.301 16
0.640 0.304 3
0.639 0.297 27
0.640 0.294 45
0.656 0.294 45
0.669 0.306 45
0.667 0.302 45
0.675 0.285 45
0.646 0.288 43
0.647 0.284 39
0.662 0.289 33
0.674 0.294 35
0.636 0.275 32
0.648 0.276 3
0.665 0.275 8
0.673 0.275 3
0.667 0.281 27
0.689 0.278 33
0.692 0.295 30
0.385 0.252 9
0.373 0.226 9
0.345 0.207 9
0.400 0.253 42
0.394 0.257 4
0.421 0.251 24
0.369 0.241 27
0.380 0.245 27
0.378 0.238 39
0.416 0.236 39
0.351 0.223 39
0.364 0.219 39
0.385 0.217 39
0.391 0.243 45
0.397 0.239 15
0.385 0.209 15
0.405 0.233 21
0.390 0.223 5
0.396 0.212 17
0.344 0.215 17
0.362 0.231 3
0.358 0.215 24
0.365 0.225 26
0.341 0.234 32
0.344 0.214 23
0.351 0.228 10
0.421 0.237 6
0.375 0.175 34
0.375 0.167 27
0.381 0.161 32
0.387 0.161 39
0.395 0.160 16
0.383 0.140 26
0.385 0.145 45
0.384 0.143 39
0.404 0.184 32
0.421 0.194 32
0.416 0.184 39
0.413 0.178 39
0.427 0.170 39
0.432 0.186 34
0.407 0.181 34
0.408 0.173 17
0.420 0.173 17
0.408 0.163 41
0.418 0.159 40
0.466 0.170 20
0.473 0.171 20
0.484 0.145 20
0.472 0.114 20
0.470 0.160 3
0.479 0.164 43
0.480 0.154 45
0.471 0.144 39
0.502 0.169 39
0.503 0.161 39
0.512 0.159 39
0.514 0.133 39
0.556 0.123 39
0.561 0.118 39
0.535 0.156 39
0.552 0.143 39
0.538 0.136 39
0.517 0.157 45
0.542 0.164 17
0.538 0.148 9
0.550 0.144 9
0.556 0.139 32
0.568 0.139 3
0.483 0.137 27
0.488 0.133 16
0.484 0.123 16
0.498 0.087 16
0.511 0.139 38
0.502 0.131 40
0.488 0.125 43
0.490 0.119 43
0.492 0.110 43
0.505 0.127 43
0.505 0.119 43
0.501 0.107 26
0.503 0.101 23
0.497 0.097 3
0.515 0.089 3
0.525 0.082 3
0.504 0.076 3
0.461 0.111 32
0.528 0.088 4
0.524 0.111 42
0.532 0.106 16
0.534 0.098 23
0.542 0.102 23
0.557 0.107 23
0.558 0.114 23
0.550 0.104 1
0.564 0.098 3
0.508 0.079 26
0.517 0.071 28
0.531 0.069 17
0.581 0.084 43
0.582 0.088 3
0.570 0.075 24
0.578 0.072 42
0.570 0.062 42
0.568 0.060 4
0.590 0.069 3
0.602 0.069 3
0.587 0.062 3
0.596 0.062 17
0.602 0.057 26
0.516 0.200 26
0.524 0.195 42
0.533 0.192 39
0.586 0.191 39
0.573 0.215 39
0.594 0.179 39
0.612 0.169 39
0.542 0.196 6
0.569 0.210 6
0.554 0.195 16
0.547 0.192 42
0.544 0.187 27
0.601 0.177 27
0.557 0.205 45
0.575 0.204 33
0.552 0.181 17
0.558 0.175 9
0.603 0.164 9
0.571 0.192 35
0.570 0.187 30
0.564 0.191 15
0.591 0.188 16
0.587 0.178 4
0.574 0.173 24
0.561 0.163 32
0.567 0.163 32
0.578 0.167 25
0.583 0.164 25
0.587 0.169 15
0.612 0.215 24
0.623 0.206 26
0.635 0.207 9
0.641 0.207 9
0.615 0.195 9
0.614 0.201 2
0.632 0.197 33
0.623 0.190 32
0.639 0.194 40
0.640 0.195 15
0.607 0.185 6
0.615 0.175 26
0.606 0.181 16
0.633 0.191 32
0.624 0.154 31
0.631 0.153 2
0.638 0.150 23
0.667 0.166 17
0.672 0.179 39
0.684 0.189 39
0.679 0.177 9
0.672 0.166 32
0.673 0.159 32
0.673 0.147 32
0.673 0.151 33
0.688 0.185 28
0.690 0.195 2
0.692 0.176 18
0.672 0.134 3
0.673 0.131 23
0.652 0.118 23
0.669 0.113 23
0.682 0.114 23
0.633 0.103 23
0.635 0.096 23
0.652 0.087 23
0.652 0.093 23
0.639 0.118 17
0.655 0.122 42
0.646 0.097 42
0.670 0.123 39
0.681 0.122 39
0.655 0.111 39
0.679 0.107 39
0.639 0.108 32
0.639 0.096 32
0.676 0.098 16
0.682 0.103 26
0.658 0.029 42
0.654 0.027 2
0.657 0.025 9
0.666 0.019 16
0.674 0.010 16
0.642 0.003 16
0.638 0.012 3
0.643 0.010 23
0.655 0.002 23
0.661 0.002 23
0.670 0.009 23
0.665 0.007 23
0.657 0.000 23
0.637 0.009 38
0.692 0.023 14
0.722 0.304 7
0.716 0.298 7
0.726 0.295 7
0.722 0.288 7
0.741 0.295 14
0.748 0.297 14
0.749 0.298 31
0.698 0.298 17
0.698 0.297 30
0.698 0.294 45
0.711 0.284 39
0.715 0.277 14
0.690 0.278 33
0.794 0.298 32
0.797 0.303 34
0.808 0.306 23
0.827 0.300 39
0.833 0.292 45
0.841 0.301 24
0.846 0.294 3
0.858 0.307 45
0.867 0.302 22
0.876 0.295 22
0.877 0.290 22
0.878 0.297 6
0.881 0.284 45
0.802 0.271 24
0.810 0.272 24
0.806 0.271 45
0.830 0.282 26
0.822 0.273 14
0.831 0.273 39
0.886 0.261 45
0.897 0.265 45
0.902 0.264 14
0.895 0.253 14
0.884 0.253 14
0.902 0.250 14
0.911 0.242 14
0.876 0.237 14
0.885 0.247 15
0.856 0.227 15
0.861 0.222 45
0.880 0.188 45
0.882 0.186 45
0.867 0.214 33
0.858 0.206 22
0.876 0.204 22
0.872 0.201 22
0.872 0.197 22
0.863 0.200 14
0.845 0.184 22
0.854 0.172 22
0.847 0.182 45
0.844 0.180 14
0.850 0.169 14
0.851 0.185 32
0.860 0.172 32
0.858 0.159 32
0.801 0.221 9
0.816 0.221 6
0.798 0.212 33
0.810 0.214 33
0.829 0.204 33
0.835 0.196 33
0.795 0.209 45
0.813 0.214 42
0.820 0.210 4
0.773 0.250 9
0.775 0.249 29
0.782 0.247 26
0.768 0.240 26
0.788 0.244 32
0.762 0.230 28
0.766 0.222 33
0.751 0.227 8
0.734 0.229 17
0.734 0.212 17
0.736 0.228 42
0.743 0.226 38
0.741 0.223 26
0.759 0.217 32
0.764 0.205 39
0.769 0.204 4
0.765 0.201 17
0.721 0.219 16
0.716 0.215 35
0.721 0.220 6
0.715 0.202 16
0.715 0.197 32
0.728 0.197 26
0.699 0.189 25
0.705 0.192 3
0.703 0.192 16
0.692 0.194 2
0.690 0.185 28
0.686 0.189 39
0.693 0.177 18
0.700 0.181 4
0.715 0.179 17
0.715 0.183 2
0.724 0.186 33
0.730 0.183 40
0.723 0.175 22
0.739 0.164 2
0.741 0.161 21
0.746 0.156 21
0.757 0.164 40
0.758 0.152 33
0.751 0.150 11
0.722 0.134 32
0.729 0.134 23
0.731 0.123 23
0.742 0.132 16
0.748 0.133 15
0.746 0.129 17
0.748 0.129 26
0.754 0.133 32
0.759 0.134 33
0.769 0.140 33
0.775 0.138 33
0.783 0.138 33
0.793 0.140 33
0.775 0.144 32
0.766 0.131 39
0.752 0.122 39
0.775 0.132 23
0.785 0.129 23
0.781 0.125 16
0.791 0.141 15
0.810 0.143 22
0.836 0.143 22
0.825 0.132 22
0.832 0.143 33
0.814 0.138 33
0.813 0.128 33
0.824 0.129 33
0.822 0.142 45
0.811 0.122 23
0.810 0.115 23
0.808 0.107 23
0.803 0.097 23
0.791 0.092 23
0.787 0.091 23
0.818 0.098 23
0.808 0.100 23
0.816 0.122 22
0.827 0.112 45
0.824 0.111 45
0.821 0.107 32
0.814 0.100 26
0.827 0.104 14
0.747 0.085 23
0.751 0.083 23
0.760 0.083 23
0.762 0.078 23
0.772 0.096 23
0.779 0.084 23
0.772 0.089 32
0.775 0.068 32
0.773 0.094 45
0.707 0.078 45
0.718 0.083 45
0.719 0.077 45
0.778 0.076 22
0.768 0.068 22
0.772 0.077 39
0.773 0.073 39
0.713 0.078 14
0.727 0.081 23
0.731 0.091 17
0.733 0.097 45
0.737 0.109 42
0.734 0.108 39
0.747 0.107 9
0.743 0.106 16
0.765 0.055 26
0.766 0.059 16
0.761 0.046 23
0.705 0.055 45
0.705 0.059 16
0.702 0.055 32
0.702 0.047 23
0.703 0.041 23
0.715 0.039 23
0.736 0.038 16
0.729 0.033 16
0.708 0.031 16
0.723 0.034 42
0.704 0.029 18
0.698 0.023 14
0.058 0.314 13
0.056 0.302 13
0.056 0.307 13
0.058 0.312 33
0.055 0.275 13
0.069 0.271 13
0.057 0.267 13
0.053 0.264 13
0.045 0.257 13
0.056 0.254 13
0.062 0.256 13
0.077 0.258 13
0.037 0.245 13
0.039 0.241 13
0.029 0.236 13
0.038 0.235 13
0.079 0.244 13
0.080 0.244 13
0.071 0.251 22
0.074 0.253 33
0.090 0.268 33
0.044 0.235 26
0.077 0.225 26
0.100 0.272 7
0.090 0.263 13
0.115 0.259 13
0.101 0.254 32
0.107 0.259 32
0.126 0.254 32
0.132 0.252 32
0.137 0.251 32
0.016 0.219 13
0.011 0.214 13
0.006 0.208 13
0.000 0.202 13
0.061 0.216 13
0.058 0.214 13
0.071 0.213 13
0.063 0.207 13
0.165 0.311 26
0.174 0.311 35
0.191 0.306 43
0.200 0.303 43
0.202 0.315 39
0.237 0.313 44
0.237 0.309 32
0.246 0.306 10
0.249 0.301 41
0.253 0.297 8
0.259 0.311 35
0.263 0.307 43
0.270 0.310 43
0.278 0.316 43
0.283 0.310 39
0.289 0.301 12
0.321 0.310 7
0.325 0.300 4
0.327 0.302 26
0.338 0.297 34
0.254 0.252 39
0.261 0.256 39
0.272 0.235 39
0.261 0.242 32
0.266 0.235 9
0.276 0.232 9
0.287 0.225 9
0.282 0.219 9
0.278 0.238 5
0.293 0.256 28
0.294 0.185 28
0.293 0.253 31
0.287 0.245 31
0.299 0.251 12
0.302 0.227 3
0.289 0.210 3
0.308 0.229 30
0.313 0.225 16
0.306 0.207 16
0.301 0.219 27
0.314 0.209 41
0.250 0.217 33
0.259 0.217 33
0.270 0.215 32
0.281 0.208 32
0.285 0.210 32
0.266 0.205 38
0.266 0.203 12
0.325 0.204 28
0.322 0.196 32
0.323 0.194 16
0.334 0.205 9
0.338 0.214 9
0.339 0.215 23
0.297 0.191 12
0.319 0.183 9
0.313 0.182 9
0.310 0.176 9
0.314 0.173 34
0.319 0.171 35
0.310 0.168 43
0.310 0.158 28
0.319 0.157 18
0.293 0.162 32
0.303 0.163 32
0.338 0.284 39
0.334 0.268 26
0.339 0.276 26
0.339 0.234 32
0.338 0.234 9
\relax{} x x }
% sort the rows into one coordinate list per class, so that later classes draw on top
\def\appendpt#1#2#3{\expandafter\ifx\csname cls#3\endcsname\relax\expandafter\gdef\csname cls#3\endcsname{}\fi
  \expandafter\xdef\csname cls#3\endcsname{\csname cls#3\endcsname(#1,#2)}}
\def\readrow#1 #2 #3 {\ifx\relax#1\else\appendpt{#1}{#2}{#3}\expandafter\readrow\fi}
\expandafter\readrow\master
\def\plotcls#1#2{\addplot[color=c#1] coordinates {#2};}
\begin{document}
\begin{tikzpicture}
\useasboundingbox (0,0) rectangle (20cm,20cm);
\clip (0,0) rectangle (20cm,20cm);
\begin{axis}[
  at={(2.5cm,2.2cm)},anchor=south west,
  scale only axis,width=15.5cm,height=15.4cm,
  xmin=-0.05,xmax=1.05,ymin=-0.05,ymax=1.05,
  xtick={0,0.2,0.4,0.6,0.8,1.0},ytick={0,0.2,0.4,0.6,0.8,1.0},
  xticklabels={0.0,0.2,0.4,0.6,0.8,1.0},yticklabels={0.0,0.2,0.4,0.6,0.8,1.0},
  tick label style={font=\fontsize{3.7}{4.4}\selectfont},
  /pgf/number format/assume math mode=true,
  tick align=outside,tick pos=left,
  major tick length=0.45mm,
  tick style={black,line width=0.1mm},
  axis line style={line width=0.1mm},
  xticklabel shift=-0.55mm,yticklabel shift=-0.55mm,
  clip=false,
  every axis plot/.append style={only marks,mark=*,mark size=0.92mm,mark options={draw opacity=0}},
  legend image code/.code={\path[draw=none] (0,0)--(6.0mm,0);\path[#1,draw=none] plot coordinates {(2.62mm,0cm)};},
  legend style={at={(axis description cs:1.0077,0.9929)},anchor=north west,legend cell align=left,
    draw=black!18,line width=0.1mm,rounded corners=0.4mm,fill=white,
    font=\fontsize{6.25}{7}\selectfont,
    cells={text height=1.6mm,text depth=0.5mm},
    row sep=-0.38mm,inner xsep=0.3mm,inner ysep=0.3mm},
]
\pgfplotsinvokeforeach{1,...,45}{
  \edef\tmp{\noexpand\plotcls{#1}{\csname cls#1\endcsname}}\tmp
}
\legend{airplane,airport,baseball\_diamond,basketball\_court,beach,bridge,chaparral,church,circular\_farmland,cloud,commercial\_area,dense\_residential,desert,forest,freeway,golf\_course,ground\_track\_field,harbor,industrial\_area,intersection,island,lake,meadow,medium\_residential,mobile\_home\_park,mountain,overpass,palace,parking\_lot,railway,railway\_station,rectangular\_farmland,river,roundabout,runway,sea\_ice,ship,snowberg,sparse\_residential,stadium,storage\_tanks,tennis\_court,terrace,thermal\_power\_station,wetland}
\end{axis}
\node[anchor=base east,text=black!42,font=\wmfont\fontsize{5}{6}\selectfont,inner sep=0pt] at (19.87cm,0.10cm) {CSDN @巨白小白};
\end{tikzpicture}
\end{document}
